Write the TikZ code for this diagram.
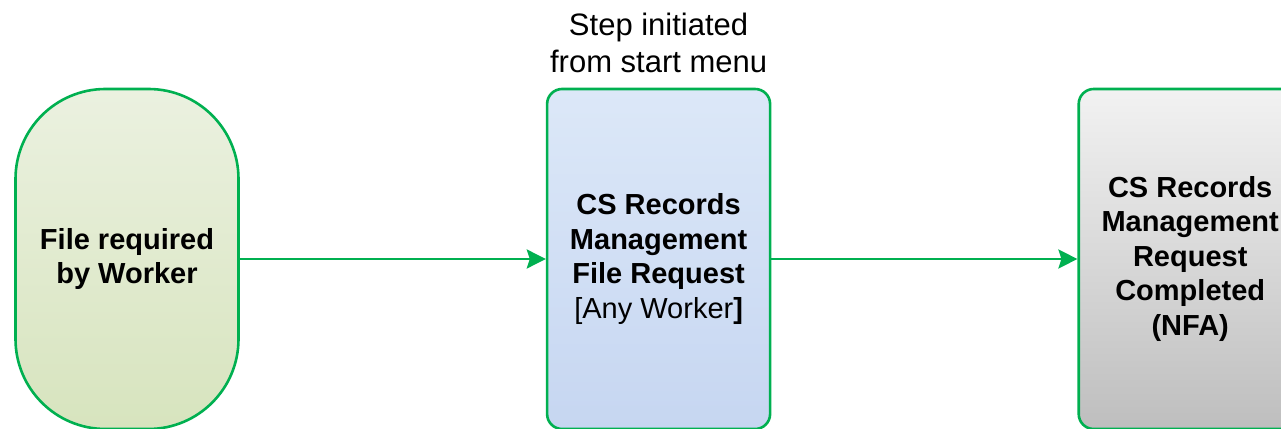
\documentclass[tikz,border=0pt]{standalone}
\usepackage{fontspec}
\setmainfont{Liberation Sans}
\usetikzlibrary{positioning,arrows.meta}
\definecolor{flowgreen}{RGB}{0,176,80}
\definecolor{needtop}{RGB}{235,241,224}
\definecolor{needbot}{RGB}{215,228,190}
\definecolor{reqtop}{RGB}{220,232,248}
\definecolor{reqbot}{RGB}{198,214,241}
\definecolor{donetop}{RGB}{242,242,242}
\definecolor{donebot}{RGB}{190,190,190}
\begin{document}
\begin{tikzpicture}[x=1pt, y=1pt, node distance=306pt,
  boxtext/.style={font=\fontsize{29}{34.5}\selectfont\bfseries, align=center},
  flowbox/.style={boxtext, draw=flowgreen, line width=2.6pt, rectangle,
    rounded corners=15pt, minimum width=223pt, minimum height=340pt, inner sep=0pt},
  terminal/.style={flowbox, rounded corners=90pt},
  flow/.style={draw=flowgreen, line width=2.6pt, -{Stealth[length=19pt, width=19pt, inset=3pt]}}]
  \useasboundingbox (0,0) rectangle (1281,428);
  \node (need) [terminal, top color=needtop, bottom color=needbot] at (127,169)
    {File required\\by Worker};
  \node (req) [flowbox, top color=reqtop, bottom color=reqbot, right=of need]
    {CS Records\\Management\\File Request\\{\mdseries[Any Worker}]};
  \node (done) [flowbox, top color=donetop, bottom color=donebot, right=of req]
    {CS Records\\Management\\Request\\Completed\\(NFA)};
  \node (start) [above=15pt of req, inner sep=0pt, align=center,
    font=\fontsize{31}{37}\selectfont] {Step initiated\\from start menu};
  \draw[flow] (need) -- (req);
  \draw[flow] (req) -- (done);
\end{tikzpicture}
\end{document}
